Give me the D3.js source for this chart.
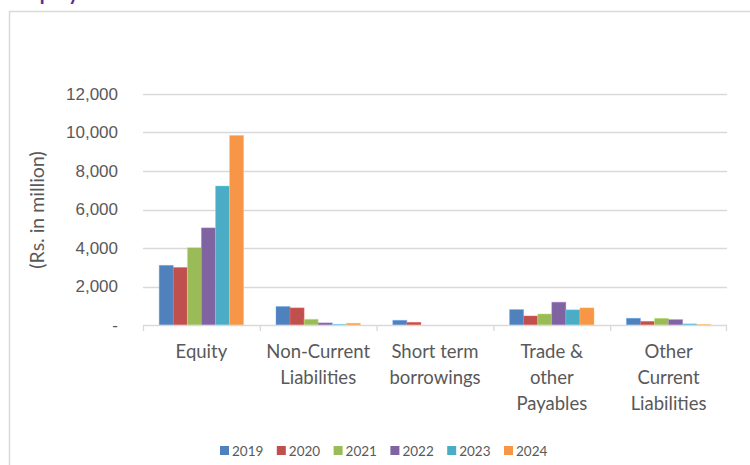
<!DOCTYPE html>
<html>
<head>
<meta charset="utf-8">
<script src="https://cdn.jsdelivr.net/npm/d3@7"></script>
<style>
  body { margin: 0; background: #fff; }
  svg { display: block; font-family: Lato, 'Open Sans', sans-serif; }
  .axis text { fill: #595959; }
  .axis-y .domain { display: none; }
</style>
</head>
<body>
<svg width="750" height="465"></svg>
<script>
const categories = [
  ['Equity'],
  ['Non-Current', 'Liabilities'],
  ['Short term', 'borrowings'],
  ['Trade &', 'other', 'Payables'],
  ['Other', 'Current', 'Liabilities']
]
const years = ['2019', '2020', '2021', '2022', '2023', '2024']
const colors = ['#4F81BD', '#C0504D', '#9BBB59', '#8064A2', '#4BACC6', '#F79646']
const values2019 = [3100, 960, 245, 800, 350]
const values2020 = [2990, 890, 140, 470, 190]
const values2021 = [4020, 300, 0, 575, 350]
const values2022 = [5045, 110, 0, 1185, 280]
const values2023 = [7220, 40, 0, 790, 60]
const values2024 = [9850, 90, 0, 890, 30]
const yTicks = [0, 2000, 4000, 6000, 8000, 10000, 12000]

const series = [values2019, values2020, values2021, values2022, values2023, values2024]

const svg = d3.select('svg')
const margin = { top: 94, right: 23, bottom: 140, left: 143 }
const width = 750 - margin.left - margin.right
const height = 465 - margin.top - margin.bottom

// frame
svg.append('path')
  .attr('d', 'M9.5,465 V11.5 H750')
  .attr('fill', 'none')
  .attr('stroke', '#d9d9d9')
  .attr('stroke-width', 1.5)

// title, cut off at the top as in the source
svg.append('text')
  .attr('x', 22)
  .attr('y', 0)
  .attr('fill', '#5b2c91')
  .attr('font-weight', 'bold')
  .attr('font-size', 20)
  .text('Equity & Liabilities')

const g = svg.append('g').attr('transform', `translate(${margin.left},${margin.top})`)

const x = d3.scaleBand()
  .domain(d3.range(categories.length))
  .range([0, width])

const x1 = d3.scaleBand()
  .domain(years)
  .range([0, x.bandwidth()])
  .paddingOuter(1.15)

const y = d3.scaleLinear()
  .domain([0, 12000])
  .range([height, 0])

const axisY = d3.axisLeft(y)
  .tickValues(yTicks)
  .tickSize(0)
  .tickPadding(25)
  .tickFormat(d => d === 0 ? '-' : d3.format(',')(d))

g.append('g')
  .attr('class', 'axis axis-y')
  .call(axisY)
  .call(s => s.selectAll('text').attr('font-size', 17))

g.append('g')
  .selectAll('line')
  .data(yTicks.filter(d => d > 0))
  .join('line')
  .attr('x1', 0)
  .attr('x2', width)
  .attr('y1', d => Math.round(y(d)) + 0.5)
  .attr('y2', d => Math.round(y(d)) + 0.5)
  .attr('stroke', '#d9d9d9')
  .attr('stroke-width', 1.3)

const groups = g.append('g')
  .selectAll('g')
  .data(categories.map((c, i) => i))
  .join('g')
  .attr('transform', i => `translate(${x(i)},0)`)

groups.selectAll('rect')
  .data(i => years.map((yr, k) => ({ yr, k, v: series[k][i] })))
  .join('rect')
  .attr('x', d => x1(d.yr))
  .attr('width', x1.bandwidth())
  .attr('y', d => y(d.v))
  .attr('height', d => height - y(d.v))
  .attr('fill', d => colors[d.k])
  .attr('stroke', d => d3.color(colors[d.k]).brighter(0.8))
  .attr('stroke-opacity', 0.5)
  .attr('stroke-width', 0.8)

// category axis
const base = g.append('g').attr('class', 'axis axis-x')
  .attr('transform', `translate(0,${height})`)

base.append('line')
  .attr('x1', 0).attr('x2', width)
  .attr('y1', 0.5).attr('y2', 0.5)
  .attr('stroke', '#d9d9d9')
  .attr('stroke-width', 1.3)

base.selectAll('.tick-mark')
  .data(d3.range(categories.length + 1))
  .join('line')
  .attr('class', 'tick-mark')
  .attr('x1', i => i < categories.length ? x(i) + 0.5 : width - 0.5)
  .attr('x2', i => i < categories.length ? x(i) + 0.5 : width - 0.5)
  .attr('y1', 0)
  .attr('y2', 6)
  .attr('stroke', '#d9d9d9')
  .attr('stroke-width', 1.3)

base.selectAll('.cat-label')
  .data(categories)
  .join('text')
  .attr('class', 'cat-label')
  .attr('text-anchor', 'middle')
  .attr('font-size', 18.5)
  .attr('fill', '#595959')
  .selectAll('tspan')
  .data((lines, i) => lines.map(l => ({ l, i })))
  .join('tspan')
  .attr('x', d => x(d.i) + x.bandwidth() / 2)
  .attr('y', (d, j) => 33 + j * 26)
  .text(d => d.l)

// y title
svg.append('text')
  .attr('transform', 'translate(44,210) rotate(-90)')
  .attr('text-anchor', 'middle')
  .attr('font-size', 19.5)
  .attr('fill', '#595959')
  .text('(Rs. in million)')

// legend
const legend = svg.append('g').attr('transform', 'translate(220,451)')
const item = legend.selectAll('g')
  .data(years)
  .join('g')
  .attr('transform', (d, i) => `translate(${i * 56.8},0)`)

item.append('rect')
  .attr('x', 0).attr('y', -5)
  .attr('width', 9).attr('height', 9)
  .attr('fill', (d, i) => colors[i])

item.append('text')
  .attr('x', 12).attr('y', 5)
  .attr('font-size', 13.5)
  .attr('fill', '#595959')
  .text(d => d)
</script>
</body>
</html>
